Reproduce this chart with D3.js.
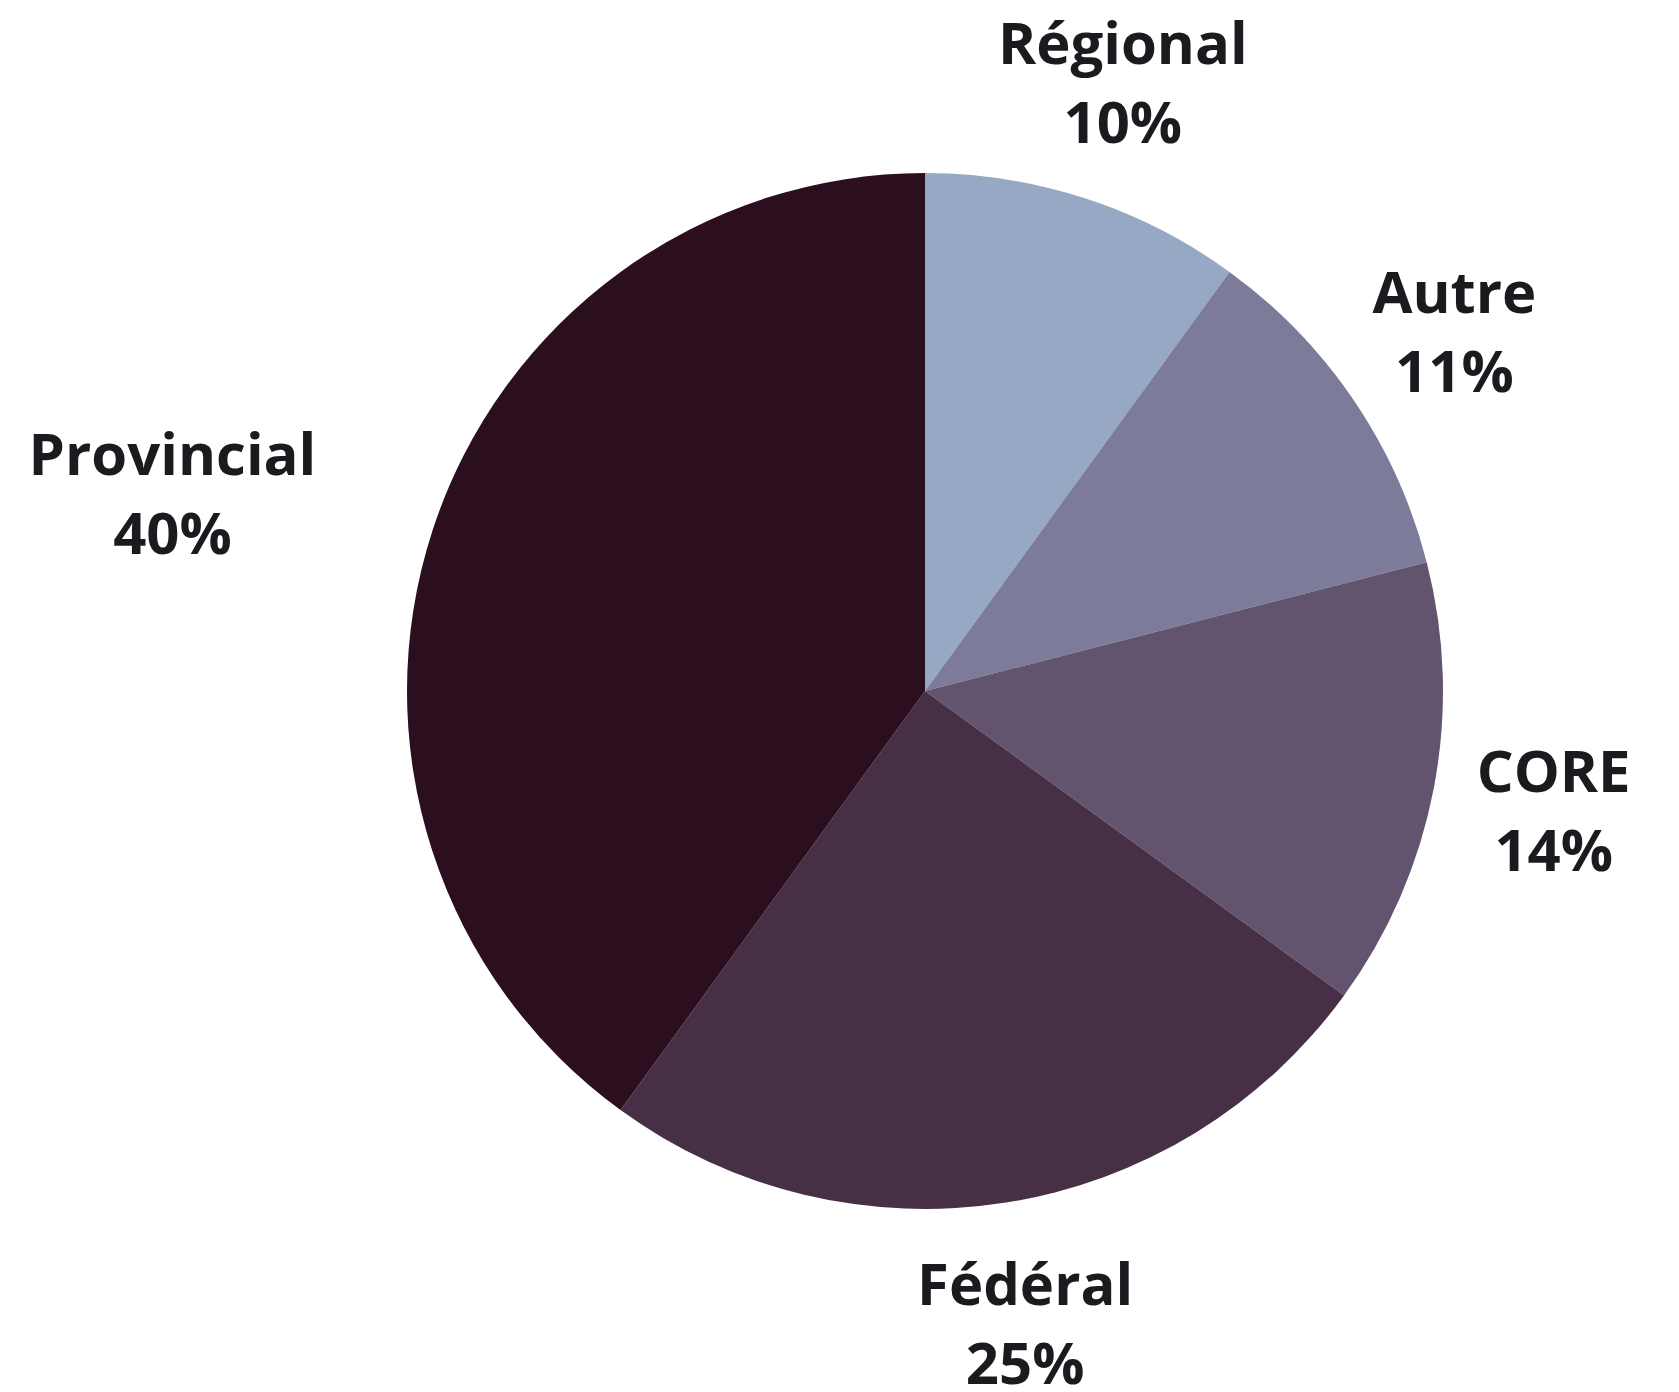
<!DOCTYPE html>
<html>
<head>
<meta charset="utf-8">
<script src="https://cdn.jsdelivr.net/npm/d3@7"></script>
<style>
  html, body { margin: 0; padding: 0; background: #fff; }
  svg text { font-family: "Open Sans", sans-serif; font-weight: 700; fill: #1b1a1f; }
</style>
</head>
<body>
<div id="chart"></div>
<script>
const categories = ['Régional', 'Autre', 'CORE', 'Fédéral', 'Provincial'];
const shares = [10, 11, 14, 25, 40];
const colors = ['#97a8c4', '#7c7c9a', '#62546e', '#472f45', '#2c0f1e'];

const width = 1679;
const height = 1392;
const cx = 925;
const cy = 691;
const radius = 518;
const labelRadius = 640;
const fontSize = 58;
const lineGap = 79;
const capH = 42;

const data = categories.map((c, i) => ({ name: c, value: shares[i], color: colors[i] }));

const svg = d3.select('#chart').append('svg')
  .attr('width', width)
  .attr('height', height);

const g = svg.append('g').attr('transform', `translate(${cx},${cy})`);

const pie = d3.pie().sort(null).value((d) => d.value);
const arc = d3.arc().innerRadius(0).outerRadius(radius);
const labelArc = d3.arc().innerRadius(labelRadius).outerRadius(labelRadius);

const arcs = pie(data);

g.selectAll('path.slice')
  .data(arcs)
  .enter()
  .append('path')
  .attr('class', 'slice')
  .attr('d', arc)
  .attr('fill', (d) => d.data.color);

let lbls = g.selectAll('g.lbl')
  .data(arcs)
  .enter()
  .append('g')
  .attr('class', 'lbl')
  .attr('transform', (d) => {
    let c = labelArc.centroid(d);
    return `translate(${c[0]},${c[1]})`;
  });

// left-side labels hang off the arc, the rest are centred on it
let anchor = (d) => ((d.startAngle + d.endAngle) / 2 > Math.PI * 1.1 ? 'end' : 'middle');

lbls.append('text')
  .attr('text-anchor', anchor)
  .attr('font-size', fontSize)
  .attr('y', -(lineGap - capH) / 2)
  .text((d) => d.data.name);

lbls.append('text')
  .attr('text-anchor', anchor)
  .attr('font-size', fontSize)
  .attr('y', -(lineGap - capH) / 2 + lineGap)
  .text((d) => d.data.value + '%')
  .each(function (d) {
    // percent line centred under the name line
    if (anchor(d) === 'end') {
      let nameW = this.parentNode.querySelector('text').getComputedTextLength();
      d3.select(this).attr('text-anchor', 'middle').attr('x', -nameW / 2);
    }
  });
</script>
</body>
</html>
